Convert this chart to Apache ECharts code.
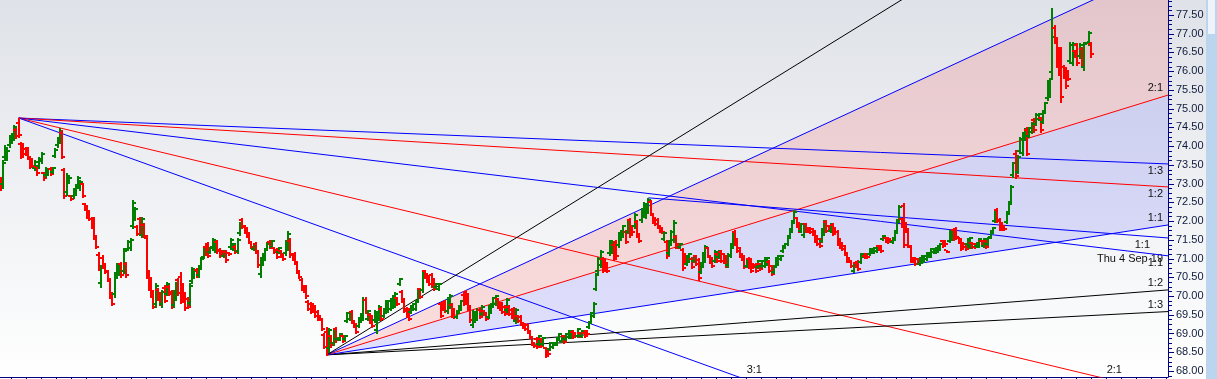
<!DOCTYPE html>
<html>
<head>
<meta charset="utf-8">
<script src="https://cdn.jsdelivr.net/npm/echarts@6/dist/echarts.min.js"></script>
<style>
html,body{margin:0;padding:0;background:#fff;overflow:hidden;}
#chart{width:1217px;height:379px;}
</style>
</head>
<body>
<div id="chart"></div>
<script>
// ---------------- DATA ----------------
// OHLC bars: [open, high, low, close]
const bars1 = [
[73.05,73.18,72.83,72.88],[73.00,73.63,72.88,73.55],[73.70,74.03,73.63,73.95],[73.70,73.95,73.63,73.88],[74.02,74.30,73.98,74.25],
[74.12,74.35,74.08,74.30],[74.22,74.56,74.16,74.50],[74.42,74.48,74.22,74.28],[74.62,74.75,74.24,74.30],[74.05,74.11,73.68,73.72],
[74.00,74.08,73.71,73.80],[73.92,73.98,73.76,73.80],[73.90,73.98,73.68,73.72],[73.65,73.71,73.42,73.45],[73.62,73.68,73.44,73.48],
[73.42,73.63,73.36,73.58],[73.45,73.50,73.23,73.28],[73.48,73.71,73.42,73.66],[73.60,73.84,73.55,73.80],[73.28,73.31,73.10,73.14],
[73.22,73.44,73.18,73.40],[73.28,73.42,73.23,73.38],[73.40,73.44,73.23,73.26],[73.30,73.44,73.28,73.42],[73.74,73.95,73.71,73.90],
[74.02,74.24,73.98,74.20],[74.12,74.48,74.08,74.40],[74.35,74.43,73.68,73.72],[73.35,73.42,72.62,72.68],[72.78,73.28,72.70,73.20],
[73.05,73.18,73.02,73.15],[72.68,72.70,72.56,72.58],[72.66,72.88,72.62,72.84],[72.74,72.96,72.70,72.92],[72.95,73.20,72.91,73.16],
[72.88,73.10,72.83,73.05],[72.98,73.02,72.64,72.68],[72.45,72.48,72.30,72.33],[72.38,72.43,72.08,72.12],[72.25,72.30,72.03,72.06],
[72.06,72.11,71.81,71.85],[72.00,72.11,71.55,71.60],[71.52,71.57,71.28,71.32],[71.10,71.17,70.69,70.74],[70.35,70.83,70.24,70.75],
[71.02,71.09,70.75,70.80],[70.82,70.88,70.61,70.66],[70.64,70.69,70.43,70.46],[70.40,70.48,69.95,70.00],[70.05,70.11,69.76,69.80],
[70.05,70.64,69.97,70.58],[70.52,70.88,70.48,70.82],[70.60,70.88,70.56,70.84],[70.86,70.91,70.51,70.55],[70.68,71.28,70.61,71.20],
[70.85,70.91,70.51,70.56],[71.26,71.49,71.23,71.45],[71.28,71.55,71.23,71.50],[71.88,72.56,71.81,72.48],[72.08,72.38,72.03,72.32],
[71.85,71.90,71.63,71.66],[72.05,72.11,71.63,71.68],[71.62,72.11,71.57,72.05],[71.90,71.95,71.57,71.60],[71.55,71.63,70.48,70.55],
[70.62,70.69,70.16,70.20],[70.45,70.51,69.97,70.02],[70.10,70.16,69.68,69.72],[69.78,70.35,69.71,70.28],[70.16,70.21,69.89,69.93],
[70.05,70.11,69.76,69.80],[69.78,70.16,69.71,70.10],[70.22,70.29,69.84,69.88],[70.06,70.37,70.03,70.32],[70.25,70.29,70.03,70.06],
[70.10,70.16,69.68,69.72],[69.76,70.16,69.71,70.10],[69.95,70.37,69.89,70.32],[70.42,70.48,70.03,70.08],[70.52,70.64,69.81,69.86],
[70.28,70.35,69.84,69.88],[70.04,70.11,69.63,69.68],[69.92,69.97,69.68,69.72],[69.82,70.35,69.76,70.28],[70.40,70.77,70.35,70.72],
[70.52,70.69,70.48,70.66],[70.70,70.75,70.51,70.55],[70.55,70.77,70.51,70.72],[70.80,71.04,70.77,71.00],[71.05,71.31,71.01,71.26],
[71.32,71.36,71.09,71.12],[71.38,71.44,71.04,71.08],[71.18,71.31,71.15,71.28]
];
const bars2 = [
[71.32,71.55,71.28,71.50],[71.22,71.49,71.17,71.45],[71.44,71.49,71.15,71.20],[71.24,71.28,71.04,71.08],[71.20,71.23,71.09,71.12],
[71.08,71.23,71.04,71.20],[71.18,71.23,70.91,70.95],[71.15,71.17,71.09,71.11],[71.32,71.55,71.28,71.50],[71.26,71.41,71.23,71.38],
[71.32,71.36,71.15,71.18],[71.20,71.55,71.15,71.50],[71.68,71.97,71.63,71.92],[72.02,72.08,71.81,71.85],[71.86,71.90,71.68,71.72],
[71.80,71.84,71.57,71.62],[71.66,71.71,71.41,71.45],[71.42,71.44,71.28,71.30],[71.26,71.41,71.23,71.38],[71.40,71.44,71.15,71.18],
[71.18,71.23,70.77,70.82],[70.58,71.04,70.51,70.98],[70.88,71.15,70.83,71.10],[71.00,71.28,70.96,71.24],[71.26,71.44,71.23,71.40],
[71.45,71.49,71.28,71.32],[71.32,71.49,71.28,71.46],[71.28,71.31,71.15,71.18],[71.24,71.28,71.01,71.05],[71.18,71.31,71.15,71.28],
[71.20,71.23,71.04,71.06],[71.12,71.15,70.96,70.99],[71.14,71.49,71.09,71.44],[71.30,71.73,71.23,71.65],[71.48,71.55,71.04,71.10],
[71.12,71.15,70.96,70.99],[71.12,71.17,70.88,70.92],[70.86,70.91,70.61,70.65],[70.66,70.69,70.48,70.51],[70.42,70.48,70.16,70.20],
[70.26,70.29,70.11,70.14],[70.24,70.29,69.95,69.99],[69.85,69.89,69.63,69.66],[69.80,69.84,69.55,69.58],[69.78,69.81,69.57,69.60],
[69.72,69.76,69.44,69.48],[69.58,69.63,69.36,69.40],[69.47,69.49,69.36,69.38],[69.36,69.41,69.09,69.12],[68.96,69.01,68.61,68.65],
[69.05,69.17,68.43,68.50],[68.60,69.15,68.51,69.08],[68.92,68.96,68.64,68.68],[68.74,69.09,68.69,69.04],[69.12,69.17,68.77,68.82],
[68.84,68.91,68.83,68.90],[68.86,69.01,68.83,68.98],[68.92,68.96,68.77,68.80],[68.85,68.96,68.83,68.94],[69.34,69.57,69.31,69.54],
[69.38,69.55,69.36,69.52],[69.58,69.63,69.28,69.32],[69.33,69.36,69.17,69.20],[69.24,69.28,69.01,69.04],[69.20,69.44,69.17,69.40],
[69.34,69.55,69.31,69.52],[69.42,69.97,69.36,69.90],[69.90,69.97,69.55,69.58],[69.40,69.63,69.36,69.60],[69.50,69.55,69.28,69.32],
[69.45,69.49,69.17,69.20],[69.35,69.63,69.31,69.58],[69.08,69.57,69.01,69.50],[69.40,69.76,69.36,69.72],[69.66,69.71,69.36,69.40],
[69.48,69.68,69.44,69.64],[69.58,69.89,69.55,69.85],[69.60,69.89,69.57,69.86],[69.66,69.95,69.63,69.92],[69.72,70.03,69.68,69.98],
[69.75,70.11,69.71,70.06],[69.94,69.97,69.76,69.79],[70.31,70.48,70.29,70.46],[70.12,70.16,69.84,69.88],[69.90,69.95,69.57,69.60],
[69.66,69.71,69.44,69.47],[69.64,69.68,69.36,69.40],[69.58,69.76,69.55,69.72],[69.66,69.81,69.63,69.78],[69.66,69.89,69.63,69.86],
[69.88,70.16,69.84,70.12],[70.18,70.21,69.95,69.98],[70.16,70.64,70.11,70.58],[70.66,70.69,70.48,70.50],[70.58,70.61,70.37,70.40],
[70.52,70.56,70.29,70.32],[70.56,70.61,70.24,70.28],[70.44,70.48,70.16,70.20],[70.24,70.35,70.21,70.32],[70.20,70.35,70.16,70.32]
];
const bars3 = [
[69.80,69.84,69.44,69.48],[69.78,69.81,69.63,69.66],[69.85,69.89,69.57,69.60],[69.60,69.97,69.55,69.92],[69.72,70.05,69.68,70.00],
[69.76,69.81,69.44,69.48],[69.64,69.68,69.41,69.44],[69.44,69.63,69.41,69.60],[69.58,69.76,69.55,69.72],[69.66,69.89,69.63,69.86],
[70.04,70.08,69.76,69.80],[70.12,70.16,69.84,69.88],[70.02,70.08,69.63,69.67],[69.70,69.76,69.31,69.35],[69.22,69.63,69.17,69.58],
[69.34,69.57,69.31,69.54],[69.40,69.68,69.36,69.64],[69.64,69.68,69.41,69.44],[69.52,69.76,69.49,69.72],[69.60,69.63,69.49,69.51],
[69.54,69.57,69.36,69.39],[69.45,69.76,69.41,69.72],[69.58,69.81,69.55,69.78],[69.74,69.97,69.71,69.94],[69.80,70.03,69.76,70.00],
[69.92,69.95,69.68,69.71],[69.80,69.84,69.63,69.66],[69.80,69.84,69.55,69.58],[69.72,69.76,69.49,69.52],[69.62,69.95,69.57,69.90],
[69.72,69.76,69.49,69.52],[69.64,69.68,69.41,69.44],[69.66,69.71,69.36,69.40],[69.33,69.68,69.28,69.63],[69.46,69.49,69.31,69.34],
[69.45,69.49,69.23,69.26],[69.28,69.31,69.15,69.17],[69.25,69.28,69.09,69.12],[69.24,69.28,69.01,69.04],[69.06,69.09,68.88,68.91],
[68.88,68.91,68.69,68.72],[68.75,68.77,68.64,68.66],[68.86,68.91,68.61,68.64],[68.72,68.96,68.69,68.92],[68.84,68.88,68.64,68.67],
[68.72,68.91,68.69,68.88],[68.60,68.64,68.37,68.41],[68.54,68.56,68.43,68.45],[68.59,68.77,68.56,68.74],[68.64,68.77,68.61,68.74],
[68.71,68.77,68.69,68.76],[68.72,68.91,68.69,68.88],[68.86,69.01,68.83,68.98],[68.80,68.96,68.77,68.93],[68.92,68.96,68.75,68.78],
[68.86,69.01,68.83,68.98],[68.91,69.09,68.88,69.06],[68.91,69.04,68.88,69.01],[69.05,69.09,68.88,68.91],[69.02,69.04,68.91,68.93],
[68.94,69.15,68.91,69.12],[69.02,69.04,68.91,68.93],[68.94,69.09,68.91,69.06],[69.02,69.04,68.91,68.93],[69.06,69.09,68.96,68.98],
[69.17,69.31,69.15,69.28],[69.31,69.57,69.28,69.54],[69.48,69.84,69.44,69.80],[70.20,70.61,70.16,70.56],[70.66,71.04,70.61,70.98],
[70.82,71.23,70.77,71.18],[70.98,71.04,70.64,70.68],[70.96,71.01,70.69,70.72],[70.88,70.91,70.64,70.67],[71.14,71.49,71.09,71.44],
[71.18,71.49,71.15,71.45],[71.36,71.41,70.96,71.00],[71.44,71.49,71.04,71.08],[71.36,71.71,71.31,71.66],[71.52,71.76,71.49,71.72],
[71.62,71.90,71.57,71.86],[71.72,71.76,71.41,71.45],[71.72,72.03,71.68,71.98],[72.02,72.08,71.57,71.62],[71.86,71.90,71.68,71.71],
[71.86,72.21,71.81,72.16],[71.98,72.03,71.57,71.62],[71.65,71.68,71.44,71.47]
];
const bars4 = [
[72.02,72.35,71.97,72.30],[72.20,72.51,72.16,72.46],[72.12,72.43,72.08,72.38],[72.26,72.62,72.21,72.56],[72.50,72.56,72.16,72.20],
[72.18,72.21,71.95,71.98],[72.08,72.11,71.90,71.93],[72.04,72.08,71.81,71.84],[71.88,71.90,71.71,71.74],[71.82,71.84,71.68,71.70],
[71.52,71.71,71.49,71.68],[71.44,71.49,71.01,71.06],[71.14,71.49,71.09,71.44],[71.40,71.76,71.36,71.72],[71.50,72.03,71.44,71.96],
[71.58,71.63,71.28,71.32],[71.38,71.41,71.28,71.30],[71.30,71.41,71.28,71.38],[71.22,71.28,70.69,70.74],[71.12,71.15,70.91,70.94],
[70.86,71.09,70.83,71.06],[70.94,71.15,70.91,71.12],[71.00,71.04,70.75,70.78],[70.94,71.09,70.91,71.06],[71.06,71.09,70.83,70.86],
[70.95,71.01,70.43,70.48],[70.64,70.91,70.61,70.88],[70.82,71.17,70.77,71.12],[70.96,71.36,70.91,71.30],[71.28,71.31,71.04,71.07],
[71.06,71.09,70.88,70.91],[71.00,71.04,70.77,70.80],[70.94,71.23,70.91,71.18],[71.12,71.15,70.91,70.94],[71.04,71.23,71.01,71.20],
[71.18,71.23,70.91,70.94],[71.12,71.15,70.88,70.91],[71.06,71.09,70.77,70.80],[70.82,71.15,70.77,71.10],[71.08,71.41,71.04,71.36],
[71.32,71.71,71.28,71.66],[71.70,71.76,71.36,71.40],[71.50,71.55,71.17,71.20],[71.28,71.31,71.04,71.07],[71.12,71.15,70.96,70.99],
[71.04,71.09,70.75,70.78],[70.80,71.01,70.77,70.98],[71.00,71.04,70.75,70.78],[70.96,71.01,70.64,70.67],[70.86,70.88,70.75,70.77],
[70.84,70.88,70.64,70.67],[70.78,70.96,70.75,70.93],[70.85,70.88,70.69,70.71],[70.80,70.96,70.77,70.93],[70.80,71.04,70.77,71.00],
[70.86,71.04,70.83,71.01],[70.92,70.96,70.64,70.67],[70.80,70.83,70.56,70.59],[70.64,70.83,70.61,70.80],[70.80,71.04,70.77,71.00],
[70.86,71.09,70.83,71.06],[70.98,71.09,70.96,71.07],[71.20,71.36,71.17,71.33],[71.30,71.41,71.28,71.39],[71.39,71.63,71.36,71.60],
[71.58,71.81,71.55,71.78],[71.74,72.03,71.71,71.99],[71.99,72.30,71.95,72.25],[72.08,72.11,71.84,71.87],[71.94,71.97,71.71,71.74],
[71.74,71.95,71.71,71.92],[71.62,71.90,71.57,71.86],[71.92,71.95,71.71,71.74],[71.82,71.84,71.71,71.73],[71.82,71.84,71.68,71.70],
[71.78,71.81,71.63,71.65],[71.72,71.76,71.44,71.48],[71.60,71.63,71.36,71.39],[71.52,71.55,71.31,71.34],[71.48,71.81,71.44,71.76],
[71.68,72.03,71.63,71.98],[71.98,72.03,71.71,71.74],[71.88,71.90,71.76,71.78],[71.74,71.95,71.71,71.92],[71.90,71.95,71.63,71.66],
[71.82,71.84,71.68,71.70],[71.72,71.76,71.36,71.40],[71.52,71.55,71.28,71.31],[71.42,71.44,71.23,71.26],[71.33,71.36,71.09,71.12]
];
const bars5 = [
[71.14,71.17,70.91,70.94],[71.02,71.04,70.91,70.93],[70.93,70.96,70.77,70.80],[70.67,70.91,70.64,70.88],[70.88,70.91,70.77,70.79],
[70.92,70.96,70.69,70.72],[70.91,71.15,70.88,71.12],[71.06,71.15,71.04,71.13],[71.08,71.09,71.01,71.03],[71.12,71.15,71.01,71.03],
[71.12,71.28,71.09,71.26],[71.17,71.28,71.15,71.26],[71.17,71.31,71.15,71.28],[71.20,71.36,71.17,71.33],[71.34,71.36,71.23,71.25],
[71.33,71.36,71.17,71.20],[71.51,71.63,71.49,71.61],[71.55,71.57,71.44,71.46],[71.55,71.57,71.41,71.44],[71.53,71.55,71.44,71.46],
[71.44,71.57,71.41,71.55],[71.52,71.76,71.49,71.73],[71.72,72.03,71.68,71.98],[72.02,72.43,71.97,72.38],[72.05,72.08,71.84,71.87],
[72.40,72.48,71.31,71.36],[71.94,71.97,71.76,71.79],[71.72,71.76,71.31,71.34],[71.32,71.36,70.91,70.94],[71.02,71.04,70.91,70.93],
[71.00,71.04,70.83,70.86],[70.99,71.01,70.88,70.90],[70.86,71.04,70.83,71.01],[70.91,71.09,70.88,71.06],[70.94,71.09,70.91,71.06],
[70.99,71.17,70.96,71.14],[71.06,71.17,71.04,71.15],[71.07,71.28,71.04,71.25],[71.17,71.28,71.15,71.26],[71.17,71.31,71.15,71.29],
[71.20,71.36,71.17,71.34],[71.26,71.41,71.23,71.39],[71.46,71.49,71.31,71.34],[71.47,71.49,71.36,71.38],[71.22,71.23,71.17,71.18],
[71.48,71.76,71.44,71.72],[71.52,71.76,71.49,71.73],[71.76,71.81,71.49,71.52],[71.80,71.84,71.55,71.58],[71.55,71.57,71.41,71.44],
[71.50,71.55,71.23,71.26],[71.42,71.44,71.28,71.30],[71.38,71.41,71.23,71.26],[71.39,71.55,71.36,71.52],[71.32,71.57,71.28,71.54],
[71.42,71.44,71.28,71.30],[71.39,71.41,71.28,71.30],[71.33,71.44,71.31,71.42],[71.34,71.55,71.31,71.52],[71.47,71.49,71.36,71.38],
[71.34,71.55,71.31,71.52],[71.46,71.49,71.28,71.31],[71.39,71.57,71.36,71.54],[71.58,71.76,71.55,71.73],[71.70,71.84,71.68,71.82],
[72.00,72.30,71.97,72.26],[72.30,72.35,71.97,72.00],[72.04,72.08,71.76,71.79],[71.94,71.97,71.76,71.79],[71.88,71.90,71.76,71.78],
[71.98,72.21,71.95,72.18],[72.24,72.48,72.21,72.45],[72.52,72.96,72.48,72.92],[73.22,73.58,73.18,73.54],[73.80,73.90,73.15,73.20],
[73.32,73.76,73.28,73.70],[73.86,74.24,73.82,74.20],[73.82,74.38,73.76,74.32],[74.20,74.48,74.16,74.44],[74.42,74.51,73.76,73.80],
[74.28,74.51,74.24,74.48],[74.38,74.64,74.35,74.60],[74.70,74.75,74.38,74.42],[74.60,74.88,74.56,74.84],[74.72,74.88,74.70,74.86],
[74.74,74.78,74.38,74.42],[74.65,74.91,74.62,74.88],[74.94,75.18,74.91,75.14],[75.28,75.76,75.23,75.70],[75.36,75.82,75.31,75.78],
[75.98,77.69,75.84,76.90],[77.15,77.23,76.75,76.80],[76.85,76.91,76.11,76.20],[76.55,76.65,75.90,75.95],[76.50,76.65,75.18,75.30],
[76.12,76.17,75.82,75.86],[76.05,76.11,75.55,75.60],[76.00,76.03,75.77,75.80],[76.28,76.78,76.22,76.70],[76.22,76.78,76.17,76.72],
[76.55,76.57,76.38,76.40],[76.70,76.75,76.17,76.22],[76.40,76.75,76.35,76.70],[76.60,76.65,76.17,76.22],[76.10,76.78,76.03,76.72],
[76.74,76.78,76.73,76.77],[76.74,77.07,76.70,77.02],[76.72,76.78,76.38,76.45]
];

// price-axis tick labels
const yTickLabels = ['68.00','68.50','69.00','69.50','70.00','70.50','71.00','71.50','72.00','72.50','73.00','73.50','74.00','74.50','75.00','75.50','76.00','76.50','77.00','77.50'];

// Gann fans: anchor [bar index, price], 1:1 slope (price per bar), ratios and labels
const anchorA = [8, 74.75];
const unitA = 0.0073;
const fanARatios = [1/3, 1/2, 1, 2, 3];
const fanALabels = ['1:3', '1:2', '1:1', '2:1', '3:1'];

const anchorB = [143, 68.43];
const unitB = 0.0094;
const fanBRatios = [1/3, 1/2, 1, 2, 3, 4];
const fanBLabels = ['1:3', '1:2', '1:1', '2:1', '3:1', '4:1'];

const anchorC = [284, 72.62];
const unitC = 0.0047;
const lineCLabel = '1:1';

const dateLabel = 'Thu 4 Sep 19';

// ---------------- LAYOUT / STYLE ----------------
const bars = [].concat(bars1, bars2, bars3, bars4, bars5);
const BAR_PX = 2.2814, FIRST_PX = 0.5, PLOT_W = 1168;
const X_MIN = -FIRST_PX / BAR_PX;
const X_MAX = X_MIN + PLOT_W / BAR_PX;
const Y_MIN = 67.839, Y_MAX = 77.900;

const GREEN = '#007f00', RED = '#ff0000', BLUE = '#0000ff', BLACK = '#000000';
const NAVY = '#000080';
const FONT = '11px "Liberation Sans", Arial, sans-serif';

const fanAColors = [BLUE, RED, BLUE, RED, BLUE];
const fanBColors = [BLACK, BLACK, BLUE, RED, BLUE, BLACK];

const fanDefs = [];
fanARatios.forEach((r, k) => fanDefs.push({anchor: anchorA, slope: -unitA * r, text: fanALabels[k], color: fanAColors[k], side: 1, dx: 0}));
fanBRatios.forEach((r, k) => fanDefs.push({anchor: anchorB, slope: unitB * r, text: fanBLabels[k], color: fanBColors[k], side: -1, dx: 0}));
fanDefs.push({anchor: anchorC, slope: -unitC, text: lineCLabel, color: BLUE, side: 1, dx: -13});

const majorTicks = yTickLabels.map(Number);
const minorTicks = [];
for (let v = 67.875; v < Y_MAX; v += 0.125) {
  const r = Math.round(v * 1000) / 1000;
  if (Math.abs(r * 2 - Math.round(r * 2)) > 1e-6) minorTicks.push(r);
}
const xTicks = [];
for (let px = 11.7; px < PLOT_W; px += 15) xTicks.push(X_MIN + px / BAR_PX);

function crisp(v) { return Math.round(v) + 0.5; }

const series = [];

// shaded zones of fan B (3:1 -> 2:1 pink, 2:1 -> 1:1 lavender)
series.push({
  type: 'custom', z: 1, silent: true, clip: true,
  data: [[anchorB[0], anchorB[1]]],
  encode: {x: 0, y: 1},
  renderItem: function (params, api) {
    const a = anchorB;
    const end = r => [X_MAX, a[1] + unitB * r * (X_MAX - a[0])];
    const pA = api.coord(a), p3 = api.coord(end(3)), p2 = api.coord(end(2)), p1 = api.coord(end(1));
    return {type: 'group', children: [
      {type: 'polygon', shape: {points: [pA, p3, p2]}, style: {fill: 'rgba(255,0,0,0.12)'}},
      {type: 'polygon', shape: {points: [pA, p2, p1]}, style: {fill: 'rgba(0,0,255,0.11)'}}
    ]};
  }
});

// fan lines
fanDefs.forEach(d => {
  series.push({
    type: 'line', z: 2, silent: true, clip: true, symbol: 'none', showSymbol: false,
    animation: false,
    lineStyle: {color: d.color, width: 1},
    data: [[d.anchor[0], d.anchor[1]], [X_MAX, d.anchor[1] + d.slope * (X_MAX - d.anchor[0])]]
  });
});

// OHLC bars (2px strokes)
series.push({
  type: 'custom', z: 3, silent: true, clip: true,
  data: bars.map((b, i) => [i, b[0], b[1], b[2], b[3]]),
  encode: {x: 0, y: [1, 2, 3, 4]},
  renderItem: function (params, api) {
    const i = api.value(0), o = api.value(1), h = api.value(2), l = api.value(3), c = api.value(4);
    const ph = api.coord([i, h]), pl = api.coord([i, l]), po = api.coord([i, o]), pc = api.coord([i, c]);
    const X = Math.round(ph[0]);
    const col = c >= o ? GREEN : RED;
    const st = {stroke: col, lineWidth: 2};
    const yo = Math.round(po[1]), yc = Math.round(pc[1]);
    return {type: 'group', children: [
      {type: 'line', shape: {x1: X, y1: Math.round(ph[1]), x2: X, y2: Math.round(pl[1]) + 1}, style: st},
      {type: 'line', shape: {x1: X - 3, y1: yo, x2: X - 1, y2: yo}, style: st},
      {type: 'line', shape: {x1: X + 1, y1: yc, x2: X + 3, y2: yc}, style: st}
    ]};
  }
});

// price-axis minor ticks
series.push({
  type: 'custom', z: 5, silent: true, clip: false,
  data: minorTicks.map(v => [X_MAX, v]),
  encode: {x: 0, y: 1},
  renderItem: function (params, api) {
    const p = api.coord([api.value(0), api.value(1)]);
    const y = crisp(p[1]);
    return {type: 'line', shape: {x1: Math.round(p[0]), y1: y, x2: Math.round(p[0]) + 4, y2: y}, style: {stroke: NAVY, lineWidth: 1}};
  }
});
// price-axis major ticks and labels
series.push({
  type: 'custom', z: 5, silent: true, clip: false,
  data: majorTicks.map(v => [X_MAX, v]),
  encode: {x: 0, y: 1},
  renderItem: function (params, api) {
    const p = api.coord([api.value(0), api.value(1)]);
    const y = crisp(p[1]);
    return {type: 'group', children: [
      {type: 'line', shape: {x1: Math.round(p[0]), y1: y, x2: Math.round(p[0]) + 6, y2: y}, style: {stroke: NAVY, lineWidth: 1}},
      {type: 'text', x: Math.round(p[0]) + 8, y: p[1], style: {text: yTickLabels[params.dataIndex], fill: '#0d1a3a', font: FONT, align: 'left', verticalAlign: 'middle'}}
    ]};
  }
});

// fan labels
series.push({
  type: 'custom', z: 4, silent: true, clip: false,
  data: fanDefs.map((d, i) => [X_MAX, Y_MIN, i]),
  encode: {x: 0, y: 1},
  renderItem: function (params, api) {
    const d = fanDefs[params.dataIndex];
    const yEdge = d.anchor[1] + d.slope * (X_MAX - d.anchor[0]);
    let x, y, align;
    if (yEdge >= Y_MIN && yEdge <= Y_MAX) {
      const p = api.coord([X_MAX, yEdge]);
      x = p[0] - 5 + d.dx; y = p[1] + d.side * 7; align = 'right';
    } else if (yEdge < Y_MIN) {
      const xc = d.anchor[0] + (Y_MIN - d.anchor[1]) / d.slope;
      const p = api.coord([xc, Y_MIN]);
      x = p[0] + 8; y = p[1] - 7; align = 'left';
    } else {
      return null;
    }
    return {type: 'text', x: x, y: y, style: {text: d.text, fill: '#111111', font: FONT, align: align, verticalAlign: 'middle'}};
  }
});

const chart = echarts.init(document.getElementById('chart'), null, {renderer: 'canvas'});
chart.setOption({
  animation: false,
  backgroundColor: {type: 'linear', x: 0, y: 0, x2: 0, y2: 1, colorStops: [{offset: 0, color: '#dfe2e8'}, {offset: 1, color: '#ffffff'}]},
  grid: {left: 0, right: 49, top: 0, bottom: 2, containLabel: false},
  xAxis: {
    type: 'value', min: X_MIN, max: X_MAX, position: 'bottom',
    axisLine: {show: true, onZero: false, lineStyle: {color: NAVY, width: 1}},
    axisTick: {show: true, length: 3, customValues: xTicks, lineStyle: {color: NAVY}},
    axisLabel: {show: false},
    splitLine: {show: false}
  },
  yAxis: {
    type: 'value', position: 'right', min: Y_MIN, max: Y_MAX,
    axisLine: {show: true, onZero: false, lineStyle: {color: NAVY, width: 1}},
    axisTick: {show: false},
    axisLabel: {show: false},
    splitLine: {show: false}
  },
  graphic: [
    {type: 'rect', left: 1206, top: 0, shape: {width: 11, height: 379}, style: {fill: '#bcd5ef'}, silent: true},
    {type: 'rect', left: 1208, top: 0, shape: {width: 7, height: 34}, style: {fill: '#eef3f9'}, silent: true},
    {type: 'text', x: 1163, y: 259, style: {text: dateLabel, fill: '#111111', font: FONT, align: 'right', verticalAlign: 'middle'}, silent: true}
  ],
  series: series
});
</script>
</body>
</html>
